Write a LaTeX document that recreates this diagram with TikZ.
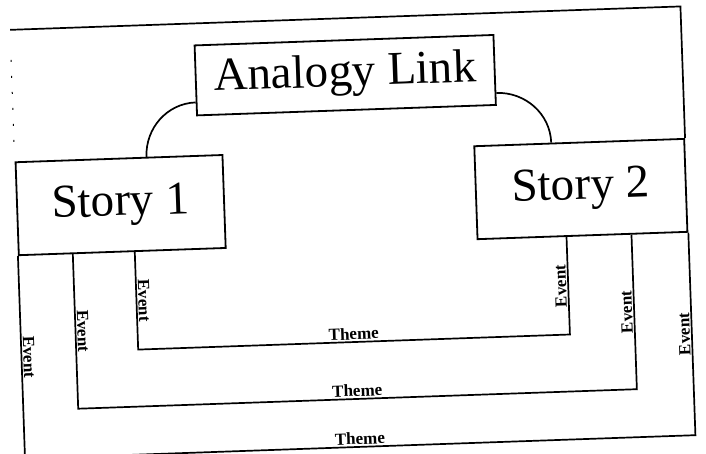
\documentclass[tikz,border=0pt]{standalone}
\usepackage{fontspec}
\setmainfont{Liberation Serif}
\begin{document}
\begin{tikzpicture}[x=1pt,y=-1pt]
\tikzset{
  box/.style={draw, line width=1.8pt, inner sep=0pt, font=\fontsize{47}{50}\selectfont},
  ln/.style={line width=1.7pt},
  frag/.style={line width=1pt, dash pattern=on 2pt off 14pt},
  lblL/.style={rotate=-90, anchor=south, inner sep=1pt, font=\bfseries\fontsize{17}{19}\selectfont},
  lblR/.style={rotate=90, anchor=south, inner sep=1pt, font=\bfseries\fontsize{17}{19}\selectfont},
  lblT/.style={anchor=south, inner sep=1.5pt, font=\bfseries\fontsize{17}{19}\selectfont}
}
\useasboundingbox (0,0) rectangle (706,453);
\begin{scope}[rotate around={2:(353,226)}, transform shape]
  \node[box, minimum width=299pt, minimum height=70pt] (al) at (350.5,75) {Analogy Link};
  \node[box, minimum width=207pt, minimum height=93pt] (s1) at (121.5,197) {Story 1};
  \node[box, minimum width=210pt, minimum height=93pt] (s2) at (582,197) {Story 2};
  \coordinate (t1) at (0,342);
  \coordinate (t2) at (0,399);
  \coordinate (t3) at (0,447);
  \coordinate (topy) at (0,18);
  % outer frame
  \draw[ln] (s1.north west |- topy) -- (s2.north east |- topy) -- (s2.north east);
  \draw[frag] (s1.north west |- 0,48) -- (s1.north west |- 0,140);
  % analogy links
  \draw[ln] (al.west |- 0,97) to[out=180,in=90] (s1.north -| 149,0);
  \draw[ln] (al.east |- 0,98) to[out=0,in=90] (s2.north -| 554,0);
  % theme / event paths
  \draw[ln] (s1.south -| 134,0) -- node[lblL]{Event} (134,342 |- t1)
            -- node[lblT]{Theme} (566,342 |- t1) -- node[lblR]{Event} (s2.south -| 566,0);
  \draw[ln] (s1.south -| 72,0) -- node[lblL]{Event} (72,399 |- t2)
            -- node[lblT]{Theme} (631,399 |- t2) -- node[lblR]{Event} (s2.south -| 631,0);
  \draw[ln] (s1.south west) -- node[lblL]{Event} (s1.south west |- t3)
            -- node[lblT]{Theme} (s2.south east |- t3) -- node[lblR]{Event} (s2.south east);
\end{scope}
\end{tikzpicture}
\end{document}
